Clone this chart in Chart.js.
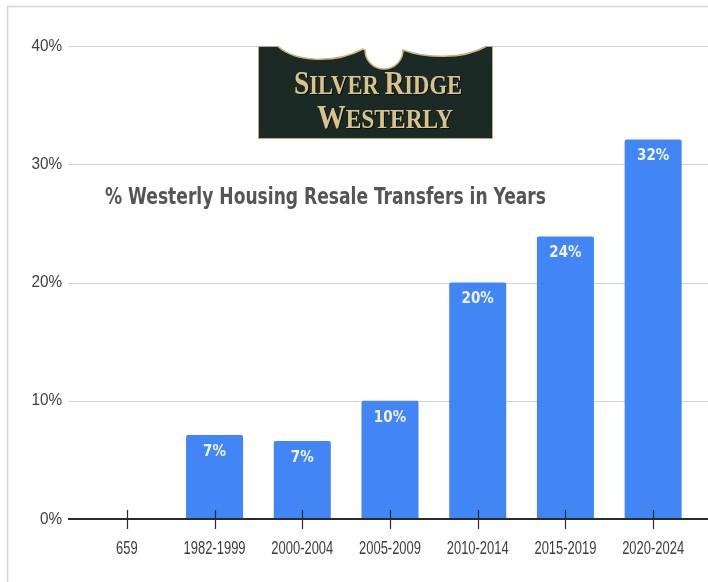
<!DOCTYPE html>
<html>
<head>
<meta charset="utf-8">
<script src="https://cdn.jsdelivr.net/npm/chart.js@4/dist/chart.umd.min.js"></script>
<style>
  html, body { margin: 0; padding: 0; background: #fff; }
  #resaleChart { display: block; }
</style>
</head>
<body>
<canvas id="resaleChart" width="708" height="582"></canvas>
<script>
// data
const periods = ['659', '1982-1999', '2000-2004', '2005-2009', '2010-2014', '2015-2019', '2020-2024'];
const transferShare = [0, 7.1, 6.6, 10.0, 20.0, 23.9, 32.1];
const yTicks = [0, 10, 20, 30, 40];
const chartTitle = '% Westerly Housing Resale Transfers in Years';
const signLines = ['SILVER RIDGE', 'WESTERLY'];

const narrow = "'Liberation Sans Narrow', 'DejaVu Sans Condensed', sans-serif";
const sans = "'Liberation Sans', Arial, sans-serif";

// draw text squeezed/stretched to a given width
function fitText(ctx, text, x, y, width) {
    const w = ctx.measureText(text).width;
    ctx.save();
    ctx.translate(x, y);
    ctx.scale(width / w, 1);
    ctx.fillText(text, 0, 0);
    ctx.restore();
}

// text squeezed by a factor, centred on x
function squeezedText(ctx, text, x, y, k) {
    ctx.save();
    ctx.translate(x, y);
    ctx.scale(k, 1);
    ctx.textAlign = 'center';
    ctx.fillText(text, 0, 0);
    ctx.restore();
}

// small caps: first letter of each word large
function smallCaps(ctx, text, cx, baseline, width, bigSize, smallSize) {
    const parts = [];
    text.split(' ').forEach((word, i) => {
        if (i > 0) parts.push({ t: ' ', s: smallSize });
        parts.push({ t: word[0], s: bigSize });
        parts.push({ t: word.slice(1), s: smallSize });
    });
    let total = 0;
    parts.forEach(p => {
        ctx.font = `bold ${p.s}px 'Liberation Serif', 'DejaVu Serif', serif`;
        p.w = ctx.measureText(p.t).width;
        total += p.w;
    });
    const k = width / total;
    ctx.save();
    ctx.translate(cx - width / 2, baseline);
    ctx.scale(k, 1);
    let x = 0;
    parts.forEach(p => {
        ctx.font = `bold ${p.s}px 'Liberation Serif', 'DejaVu Serif', serif`;
        ctx.fillText(p.t, x, 0);
        x += p.w;
    });
    ctx.restore();
}

function scallops(ctx, sy0) {
    ctx.moveTo(278, sy0);
    ctx.bezierCurveTo(295, 62, 335, 64, 363, 49);
    ctx.arc(384, 50, 19, Math.PI * 1.0, Math.PI * 2.0, true);
    ctx.bezierCurveTo(425, 58, 462, 60, 486, sy0);
}

const decorations = {
    id: 'decorations',
    beforeDatasetsDraw(chart) {
        const { ctx } = chart;
        const y = chart.scales.y;
        ctx.save();
        // outer frame
        ctx.strokeStyle = '#d4d4d4';
        ctx.lineWidth = 1.5;
        ctx.beginPath();
        ctx.moveTo(7.5, 582);
        ctx.lineTo(7.5, 6.5);
        ctx.lineTo(708, 6.5);
        ctx.stroke();
        // gridlines
        ctx.strokeStyle = '#d2d2d2';
        ctx.lineWidth = 1;
        yTicks.slice(1).forEach(v => {
            const py = Math.round(y.getPixelForValue(v)) + 0.5;
            ctx.beginPath();
            ctx.moveTo(68, py);
            ctx.lineTo(708, py);
            ctx.stroke();
        });
        // y tick labels
        ctx.fillStyle = '#404040';
        ctx.font = `17px ${sans}`;
        ctx.textBaseline = 'middle';
        yTicks.forEach(v => {
            const py = y.getPixelForValue(v);
            const t = v + '%';
            const w = ctx.measureText(t).width * 0.9;
            squeezedText(ctx, t, 62 - w / 2, py, 0.9);
        });
        ctx.restore();
    },
    afterDatasetsDraw(chart) {
        const { ctx } = chart;
        const x = chart.scales.x;
        const y = chart.scales.y;
        const base = y.getPixelForValue(0);
        ctx.save();
        // baseline + ticks
        ctx.strokeStyle = '#2b2b2b';
        ctx.lineWidth = 2;
        ctx.beginPath();
        ctx.moveTo(68, base);
        ctx.lineTo(708, base);
        ctx.stroke();
        ctx.lineWidth = 1.2;
        periods.forEach((p, i) => {
            const px = Math.round(x.getPixelForValue(i)) + 0.5;
            ctx.beginPath();
            ctx.moveTo(px, base - 9);
            ctx.lineTo(px, base + 10);
            ctx.stroke();
        });
        // x labels
        ctx.fillStyle = '#3c3c3c';
        ctx.font = `18px ${sans}`;
        ctx.textBaseline = 'middle';
        periods.forEach((p, i) => {
            squeezedText(ctx, p, x.getPixelForValue(i), base + 30, 0.72);
        });
        // value labels
        ctx.fillStyle = '#eef3fd';
        ctx.font = `bold 15px ${narrow}`;
        ctx.textAlign = 'center';
        ctx.textBaseline = 'middle';
        chart.getDatasetMeta(0).data.forEach((bar, i) => {
            const v = transferShare[i];
            if (!v) return;
            ctx.fillText(Math.round(v) + '%', bar.x, bar.y + 17);
        });
        ctx.restore();
    },
    afterDraw(chart) {
        const { ctx } = chart;
        ctx.save();
        // title
        ctx.fillStyle = '#555555';
        ctx.font = `bold 23px ${narrow}`;
        ctx.textBaseline = 'alphabetic';
        fitText(ctx, chartTitle, 105, 204, 441);

        // the sign
        const sx0 = 258, sy0 = 46, sx1 = 493, sy1 = 139;
        ctx.fillStyle = '#1c2a25';
        ctx.fillRect(sx0, sy0, sx1 - sx0, sy1 - sy0);
        ctx.strokeStyle = '#b9ab86';
        ctx.lineWidth = 1;
        ctx.strokeRect(sx0 + 0.5, sy0 + 0.5, sx1 - sx0 - 1, sy1 - sy0 - 1);
        // scalloped top
        ctx.fillStyle = '#ffffff';
        ctx.beginPath();
        scallops(ctx, sy0);
        ctx.closePath();
        ctx.fill();
        ctx.strokeStyle = '#c9b27c';
        ctx.lineWidth = 1.5;
        ctx.beginPath();
        scallops(ctx, sy0 + 0.5);
        ctx.stroke();
        // sign lettering
        ctx.fillStyle = '#d8c38e';
        ctx.shadowColor = 'rgba(0,0,0,0.6)';
        ctx.shadowOffsetX = 1;
        ctx.shadowOffsetY = 1;
        smallCaps(ctx, signLines[0], 378, 94, 168, 33, 27);
        smallCaps(ctx, signLines[1], 385, 128, 136, 33, 27);
        ctx.restore();
    }
};

new Chart(document.getElementById('resaleChart'), {
    type: 'bar',
    data: {
        labels: periods,
        datasets: [{
            data: transferShare,
            backgroundColor: '#4285f4',
            borderWidth: 0,
            borderRadius: 2,
            borderSkipped: 'bottom',
            categoryPercentage: 1,
            barPercentage: 0.65
        }]
    },
    options: {
        responsive: false,
        animation: false,
        devicePixelRatio: 1,
        layout: { padding: { top: 46, right: 11, bottom: 0, left: 0 } },
        plugins: {
            legend: { display: false },
            tooltip: { enabled: false }
        },
        scales: {
            x: {
                grid: { display: false, drawTicks: false },
                border: { display: false },
                ticks: { display: false },
                afterFit(scale) { scale.height = 63; }
            },
            y: {
                min: 0,
                max: 40,
                grid: { display: false, drawTicks: false },
                border: { display: false },
                ticks: { display: false, stepSize: 10 },
                afterFit(scale) { scale.width = 83; }
            }
        }
    },
    plugins: [decorations]
});
</script>
</body>
</html>
